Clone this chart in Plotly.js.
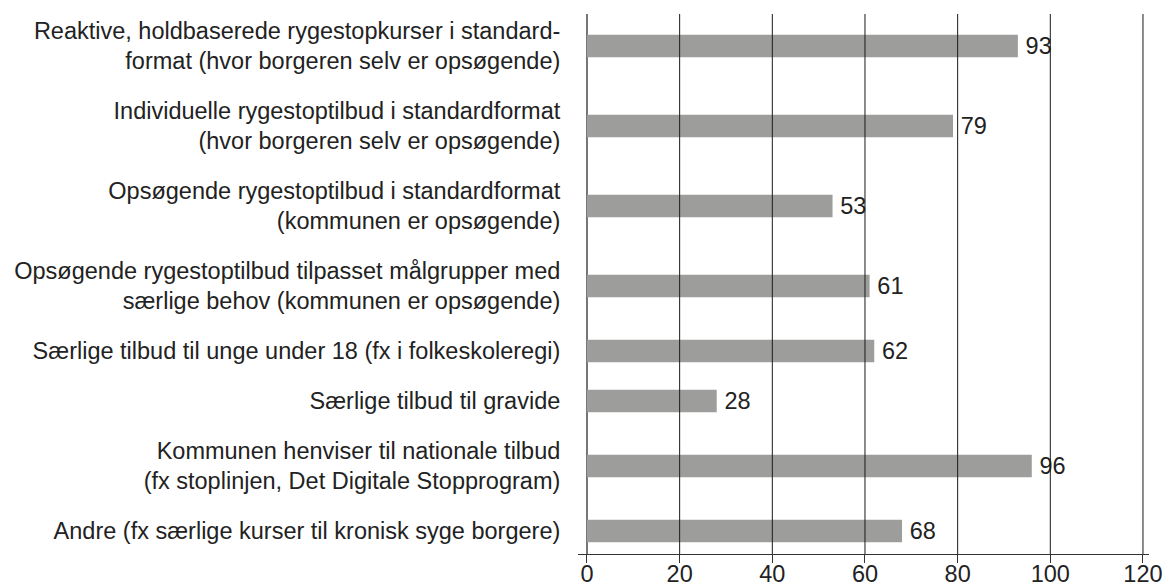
<!DOCTYPE html>
<html>
<head>
<meta charset="utf-8">
<script src="https://cdn.plot.ly/plotly-3.0.1.min.js"></script>
<style>html,body{margin:0;padding:0;background:#fff;}#chart{width:1173px;height:588px;}</style>
</head>
<body>
<div id="chart"></div>
<script>
const categories = [
  "Reaktive, holdbaserede rygestopkurser i standard-<br>format (hvor borgeren selv er opsøgende)",
  "Individuelle rygestoptilbud i standardformat<br>(hvor borgeren selv er opsøgende)",
  "Opsøgende rygestoptilbud i standardformat<br>(kommunen er opsøgende)",
  "Opsøgende rygestoptilbud tilpasset målgrupper med<br>særlige behov (kommunen er opsøgende)",
  "Særlige tilbud til unge under 18 (fx i folkeskoleregi)",
  "Særlige tilbud til gravide",
  "Kommunen henviser til nationale tilbud<br>(fx stoplinjen, Det Digitale Stopprogram)",
  "Andre (fx særlige kurser til kronisk syge borgere)"
];
const values = [93, 79, 53, 61, 62, 28, 96, 68];
const xTicks = [0, 20, 40, 60, 80, 100, 120];

// row slots: taller rows for two-line labels
const slots = [];
let cum = 0;
categories.forEach(c => {
  const lines = c.split('<br>').length;
  const h = 20 + 30 * lines;
  slots.push(cum + h / 2);
  cum += h;
});

const font = {family: "Liberation Sans, Arial, sans-serif", size: 23.5, color: "#222"};

const trace = {
  type: 'bar',
  orientation: 'h',
  x: values,
  y: slots,
  width: 22.7,
  marker: {color: '#9d9e9c', line: {width: 0}},
  text: values.map(v => '\u2009' + v),
  textposition: 'outside',
  constraintext: 'none',
  textfont: font,
  cliponaxis: false,
  hoverinfo: 'none'
};

const shapes = xTicks.filter(t => t !== 0).map(t => ({
  type: 'line', xref: 'x', yref: 'paper', x0: t, x1: t, y0: 0, y1: 1,
  line: {color: '#1a1a1a', width: 1}, layer: 'above'
}));

const layout = {
  width: 1173, height: 588,
  margin: {l: 578, r: 24, t: 14, b: 34, pad: 0},
  paper_bgcolor: '#fff', plot_bgcolor: '#fff',
  showlegend: false,
  font: font,
  xaxis: {
    range: [-1.94, 121.3],
    tickvals: xTicks,
    ticktext: xTicks.map(String),
    showgrid: false,
    zeroline: true, zerolinecolor: '#777', zerolinewidth: 2,
    showline: true, linecolor: '#333', linewidth: 1,
    ticks: 'outside', ticklen: 8, tickcolor: '#333', tickwidth: 1,
    ticklabelstandoff: -9,
    tickfont: font,
    fixedrange: true
  },
  yaxis: {
    range: [548, 8],
    tickvals: slots,
    ticktext: categories,
    showgrid: false, zeroline: false, showline: false,
    ticks: 'outside', ticklen: 12, tickcolor: 'rgba(0,0,0,0)',
    tickfont: font,
    fixedrange: true
  },
  shapes: shapes
};

Plotly.newPlot('chart', [trace], layout, {displayModeBar: false, staticPlot: true});
</script>
</body>
</html>
